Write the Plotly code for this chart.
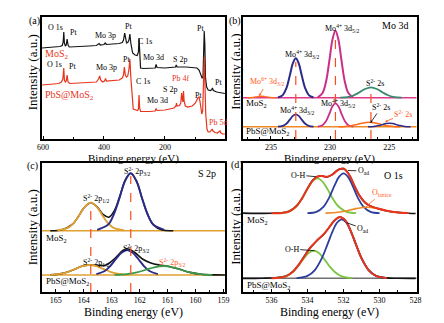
import plotly.graph_objects as go

FONT = "Liberation Serif"
W, H = 444, 323

# ---------------- (a) survey spectra ----------------
a_be_mos2 = [604, 580, 555, 545, 537, 534, 532, 530, 527, 524, 521, 518, 514, 500, 480, 450, 425, 416, 412,
             400, 396, 392, 370, 350, 340, 336, 332, 329, 326, 322, 318, 315, 312, 306, 298, 291, 287, 285,
             283, 280, 270, 245, 232, 229, 226, 200, 175, 165, 163, 160, 130, 110, 95, 88, 82, 78, 75, 73, 71,
             69, 67, 63, 58, 50, 46, 44, 41, 30, 15, 3]
a_int_mos2 = [91, 91.5, 92, 92.5, 93.5, 97, 107, 96, 93, 94, 100, 94, 92, 92, 92.5, 93, 93.5, 95.5, 94,
              94.5, 96, 94.5, 95, 95.5, 96.5, 99, 106, 98, 96, 96.5, 99, 105, 96, 86, 84, 83.5, 87, 101,
              86, 71, 70.5, 70.5, 71, 74.5, 71.5, 71, 71.5, 72, 74, 72, 72, 71.5, 71, 69, 64, 61, 62, 80, 108,
              95, 62, 52, 49, 48.5, 49.5, 51, 48.5, 47, 46, 45.5]
a_be_pbs = [604, 570, 548, 540, 535, 532, 530, 527, 524, 521, 518, 512, 480, 450, 425, 418, 414, 411, 405,
            398, 395, 392, 375, 350, 340, 336, 333, 330, 326, 322, 318, 315, 312, 308, 304, 295, 290, 287,
            285, 283, 280, 250, 232, 229, 226, 200, 180, 170, 164, 162, 160, 152, 148, 145, 143, 141, 139,
            137, 133, 125, 110, 100, 92, 88, 85, 82, 79, 76, 73, 71, 69, 66, 62, 58, 52, 48, 45, 42, 36, 28,
            22, 19, 16, 10, 3]
a_int_pbs = [54, 54.5, 55.5, 57, 60, 71, 59, 57, 58, 64, 57, 55.5, 56, 56.5, 57, 60, 63, 59, 57,
             58, 60.5, 58, 58.5, 59, 61, 64, 72, 64, 62, 63, 70, 80, 62, 40, 30, 29, 28.5, 30,
             44, 31, 27.5, 27.5, 28, 30.5, 28.5, 29, 30, 31, 33, 36, 33, 33.5, 36, 46, 40, 37, 48,
             38, 33, 32, 33, 36, 41, 42, 38, 27, 25, 28, 50, 82, 60, 25, 10, 7, 7, 9, 10, 8, 6.5, 6,
             7, 8, 6, 5, 5]

# ---------------- (b) Mo 3d ----------------
b_base_x = [237.5, 222.5]
b_base_mos2 = [41.3, 41.3]
b_base_pbs = [12.3, 12.3]
b_m_d32_x = [234.4, 234.0, 233.7, 233.4, 233.15, 232.9, 232.65, 232.4, 232.1, 231.8, 231.4]
b_m_d32_y = [41.5, 43.9, 50.6, 63.8, 75.6, 80.7, 75.6, 63.8, 50.6, 43.9, 41.5]
b_m_d52_x = [231.05, 230.65, 230.35, 230.05, 229.8, 229.55, 229.3, 229.05, 228.75, 228.45, 228.05]
b_m_d52_y = [41.7, 45.7, 57.0, 79.5, 99.6, 108.3, 99.6, 79.5, 57.0, 45.7, 41.7]
b_m_s2s_x = [229.15, 228.55, 228.05, 227.55, 227.05, 226.55, 226.05, 225.55, 225.05, 224.55, 223.95]
b_m_s2s_y = [41.4, 41.9, 43.5, 46.5, 50.0, 51.7, 50.0, 46.5, 43.5, 41.9, 41.4]
b_m_mo6_x = [237.0, 236.5, 236.1, 235.8, 235.5, 235.1, 234.6]
b_m_mo6_y = [41.3, 41.6, 42.4, 42.8, 42.4, 41.6, 41.3]
b_p_d32_y = [12.4, 13.1, 15.2, 19.4, 23.1, 24.7, 23.1, 19.4, 15.2, 13.1, 12.4]
b_p_d52_y = [12.4, 13.8, 17.8, 25.6, 32.7, 35.7, 32.7, 25.6, 17.8, 13.8, 12.4]
b_p_s2s_x = [229.3, 228.7, 228.2, 227.7, 227.2, 226.7, 226.2, 225.7, 225.2, 224.7, 224.1]
b_p_s2s_y = [12.3, 12.6, 13.2, 14.6, 16.1, 16.8, 16.1, 14.6, 13.2, 12.6, 12.3]
b_p_s2b_x = [226.8, 226.3, 225.9, 225.6, 225.3, 225.0, 224.7, 224.4, 224.1, 223.7, 223.2]
b_p_s2b_y = [12.3, 12.6, 13.4, 14.4, 15.4, 15.8, 15.4, 14.4, 13.4, 12.6, 12.3]
b_peak_pos = [232.9, 229.55, 226.55]
b_peak_top = [77, 105, 50]

# ---------------- (c) S 2p ----------------
c_base_x = [165.6, 158.8]
c_base_mos2 = [61.3, 61.3]
c_base_pbs = [17.0, 17.0]
c_m_p12_x = [164.95, 164.55, 164.35, 164.15, 163.95, 163.75, 163.55, 163.35, 163.15, 162.95, 162.55]
c_m_p12_y = [61.7, 64.4, 69.4, 77.3, 85.7, 89.3, 85.7, 77.3, 69.4, 64.4, 61.7]
c_m_p32_x = [163.52, 163.12, 162.92, 162.72, 162.52, 162.32, 162.12, 161.92, 161.72, 161.52, 161.12]
c_m_p32_y = [62.2, 67.6, 78.0, 94.1, 111.3, 118.8, 111.3, 94.1, 78.0, 67.6, 62.2]
c_m_env_x = [165.2, 164.8, 164.4, 164.2, 164.0, 163.75, 163.5, 163.3, 163.1, 162.9, 162.7, 162.5, 162.32,
             162.1, 161.9, 161.7, 161.5, 161.2, 160.8]
c_m_env_y = [61.3, 61.9, 67.8, 75.2, 83.9, 89.3, 84.4, 77.3, 74.8, 81.5, 96.8, 112.8, 118.8,
             110.0, 92.5, 76.5, 66.9, 62.0, 61.3]
c_p_p12_x = [165.2, 164.8, 164.55, 164.3, 164.05, 163.8, 163.55, 163.3, 163.05, 162.8, 162.4]
c_p_p12_y = [17.2, 18.4, 20.2, 23.1, 25.8, 27.0, 25.8, 23.1, 20.2, 18.4, 17.2]
c_p_p32_x = [163.55, 163.25, 163.05, 162.85, 162.65, 162.45, 162.25, 162.05, 161.85, 161.65, 161.35]
c_p_p32_y = [17.8, 21.0, 26.0, 33.0, 39.3, 42.0, 39.3, 33.0, 26.0, 21.0, 17.8]
c_p_pbs_x = [162.9, 162.45, 162.1, 161.8, 161.48, 161.15, 160.82, 160.5, 160.2, 159.85, 159.4]
c_p_pbs_y = [17.1, 17.9, 19.6, 22.0, 24.7, 26.0, 24.7, 22.0, 19.6, 17.9, 17.1]
c_p_env_x = [165.2, 164.8, 164.4, 164.1, 163.8, 163.5, 163.2, 162.9, 162.6, 162.45, 162.2, 161.9, 161.6,
             161.3, 161.0, 160.6, 160.2, 159.8, 159.3, 158.9]
c_p_env_y = [17.2, 18.4, 21.9, 25.4, 27.1, 26.5, 27.0, 33.2, 41.6, 43.2, 40.0, 33.0, 29.0,
             27.0, 25.8, 22.9, 19.6, 17.7, 17.1, 17.0]
c_peak_pos = [163.75, 162.32]
c_peak_top = [87, 116]

# ---------------- (d) O 1s ----------------
d_base_x = [537.8, 527.8]
d_base_pbs = [13.7, 13.7]
d_m_oh_x = [535.6, 535.0, 534.6, 534.3, 534.0, 533.7, 533.45, 533.2, 532.9, 532.6, 532.3, 531.9, 531.3]
d_m_oh_y = [78.8, 80.7, 86.0, 93.6, 103.2, 111.2, 113.7, 111.2, 103.2, 93.6, 86.0, 80.7, 78.8]
d_m_oad_x = [534.0, 533.5, 533.1, 532.8, 532.5, 532.25, 532.0, 531.75, 531.5, 531.2, 530.9, 530.5, 530.0]
d_m_oad_y = [78.8, 80.1, 85.3, 94.2, 106.3, 115.1, 118.7, 115.1, 106.3, 94.2, 85.3, 80.1, 78.8]
d_m_olat_x = [533.0, 532.3, 531.8, 531.3, 530.7, 530.1, 529.6, 529.1, 528.4]
d_m_olat_y = [78.9, 79.7, 81.3, 83.4, 84.7, 83.4, 81.3, 79.7, 78.9]
d_m_env_x = [536.0, 535.4, 535.0, 534.6, 534.3, 534.0, 533.7, 533.45, 533.2, 532.9, 532.6, 532.3, 532.0,
             531.7, 531.4, 531.1, 530.8, 530.5, 530.1, 529.6, 529.1, 528.4]
d_m_env_y = [78.7, 79.1, 80.7, 86.0, 93.6, 103.3, 111.7, 115.5, 115.9, 115.3, 117.5, 122.0, 123.5,
             117.6, 106.6, 96.1, 89.4, 85.9, 83.5, 81.3, 79.7, 78.9]
d_m_raw_x = [537.6, 536.8, 536.0, 535.4, 535.0, 534.6, 534.3, 534.0, 533.7, 533.45, 533.2, 532.9, 532.6,
             532.3, 532.0, 531.7, 531.4, 531.1, 530.8, 530.5, 530.1, 529.6, 529.1, 528.4, 528.0]
d_m_raw_y = [78.9, 78.6, 78.8, 79.2, 80.9, 86.1, 93.4, 103.6, 111.9, 115.3, 116.1, 115.0, 117.8,
             122.3, 123.2, 117.9, 106.3, 96.0, 89.2, 86.0, 83.4, 81.0, 79.9, 78.8, 78.5]
d_p_oh_x = [535.8, 535.2, 534.8, 534.5, 534.2, 533.9, 533.65, 533.4, 533.1, 532.8, 532.5, 532.1, 531.5]
d_p_oh_y = [13.9, 15.7, 20.3, 26.3, 33.6, 39.5, 41.3, 39.5, 33.6, 26.3, 20.3, 15.7, 13.9]
d_p_oad_x = [534.6, 534.0, 533.6, 533.2, 532.9, 532.6, 532.35, 532.1, 531.85, 531.6, 531.3, 531.0, 530.6,
             530.2, 529.6]
d_p_oad_y = [13.9, 16.1, 21.7, 33.8, 47.1, 60.9, 69.5, 72.7, 69.5, 60.9, 47.1, 33.8, 21.7, 16.1, 13.9]
d_p_env_x = [536.0, 535.5, 535.2, 534.8, 534.5, 534.2, 533.9, 533.65, 533.4, 533.1, 532.8, 532.5, 532.2,
             531.9, 531.6, 531.3, 531.0, 530.6, 530.2, 529.6]
d_p_env_y = [13.7, 14.4, 15.7, 20.3, 26.7, 34.8, 42.8, 48.3, 52.6, 57.8, 64.5, 71.5, 75.0,
             71.6, 61.2, 47.1, 33.8, 21.7, 16.1, 13.9]
d_p_raw_x = [537.6, 536.5, 535.8, 535.2, 534.8, 534.5, 534.2, 533.9, 533.65, 533.4, 533.1, 532.8, 532.5,
             532.2, 531.9, 531.6, 531.3, 531.0, 530.6, 530.2, 529.6, 529.0, 528.0]
d_p_raw_y = [13.6, 13.8, 14.3, 15.9, 20.6, 27.0, 35.1, 43.2, 48.0, 52.9, 57.5, 64.6, 71.3,
             75.0, 71.7, 61.0, 47.3, 33.6, 21.9, 16.2, 14.1, 13.8, 13.6]

# ---------------- colours ----------------
BLACK = "#141414"
RED = "#e8341c"
NAVY = "#2b2b88"
MAGENTA = "#c8308a"
PINK = "#e0388c"
TEAL = "#3a8a70"
ORANGE = "#ee8a26"
DASH = "#ff4a1a"
GOLD = "#e0a030"
GREEN_C = "#3a9a4a"
GREEN_D = "#7cc444"
BLUE_D = "#2c3e9c"
LABRED = "#ff5a1a"

fig = go.Figure()


def line(x, y, ax, color, width=1.6, shape="spline", dash=None):
    fig.add_trace(go.Scatter(x=x, y=y, xaxis="x" + ax, yaxis="y" + ax, mode="lines",
                             line=dict(color=color, width=width, shape=shape, dash=dash),
                             hoverinfo="skip", showlegend=False))


# (a)
line(a_be_mos2, a_int_mos2, "", BLACK, 1.2, "linear")
line(a_be_pbs, a_int_pbs, "", RED, 1.2, "linear")

# (b)
line(b_base_x, b_base_mos2, "2", PINK, 1.6, "linear")
line(b_m_mo6_x, b_m_mo6_y, "2", "#ff6a1a", 1.4)
line(b_m_d32_x, b_m_d32_y, "2", NAVY, 2.0)
line(b_m_d52_x, b_m_d52_y, "2", MAGENTA, 2.0)
line(b_m_s2s_x, b_m_s2s_y, "2", TEAL, 1.8)
line(b_base_x, b_base_pbs, "2", ORANGE, 1.6, "linear")
line(b_m_d32_x, b_p_d32_y, "2", NAVY, 1.8)
line(b_m_d52_x, b_p_d52_y, "2", MAGENTA, 1.8)
line(b_p_s2s_x, b_p_s2s_y, "2", "#ff6a1a", 1.5)
line(b_p_s2b_x, b_p_s2b_y, "2", NAVY, 1.5)
for xp, yt in zip(b_peak_pos, b_peak_top):
    line([xp, xp], [0, yt], "2", DASH, 1.2, "linear", "dash")

# (c)
line(c_base_x, c_base_mos2, "3", GOLD, 1.5, "linear")
line(c_m_env_x, c_m_env_y, "3", BLACK, 1.6)
line(c_m_p12_x, c_m_p12_y, "3", GOLD, 1.8)
line(c_m_p32_x, c_m_p32_y, "3", NAVY, 1.9)
line(c_base_x, c_base_pbs, "3", GOLD, 1.5, "linear")
line(c_p_env_x, c_p_env_y, "3", BLACK, 1.6)
line(c_p_p12_x, c_p_p12_y, "3", GOLD, 1.8)
line(c_p_p32_x, c_p_p32_y, "3", NAVY, 1.9)
line(c_p_pbs_x, c_p_pbs_y, "3", GREEN_C, 1.8)
for xp, yt in zip(c_peak_pos, c_peak_top):
    line([xp, xp], [0, yt], "3", DASH, 1.2, "linear", "dash")

# (d)
line(d_m_raw_x, d_m_raw_y, "4", BLACK, 1.6)
line(d_m_oh_x, d_m_oh_y, "4", GREEN_D, 1.8)
line(d_m_oad_x, d_m_oad_y, "4", BLUE_D, 1.8)
line(d_m_olat_x, d_m_olat_y, "4", ORANGE, 1.6)
line(d_m_env_x, d_m_env_y, "4", RED, 2.0)
line(d_base_x, d_base_pbs, "4", "#707070", 1.4, "linear")
line(d_p_raw_x, d_p_raw_y, "4", BLACK, 1.6)
line(d_p_oh_x, d_p_oh_y, "4", GREEN_D, 1.8)
line(d_p_oad_x, d_p_oad_y, "4", BLUE_D, 1.8)
line(d_p_env_x, d_p_env_y, "4", RED, 2.0)

# ---------------- axes ----------------
dom_left = [37.7 / W, 225 / W]
dom_right = [243 / W, 421 / W]
dom_top = [1 - 139 / H, 1 - 17 / H]
dom_bot = [1 - 292 / H, 1 - 163 / H]


def xax(dom, anchor, rng, dtick, minor):
    return dict(domain=dom, anchor=anchor, range=rng, dtick=dtick, tick0=0,
                showline=True, linecolor="black", linewidth=1.5, mirror=True,
                ticks="inside", ticklen=3, tickwidth=1, tickcolor="black",
                minor=dict(dtick=minor, ticks="inside", ticklen=2, tickcolor="black"),
                tickfont=dict(family=FONT, size=8, color="black"),
                showgrid=False, zeroline=False, fixedrange=True)


def yax(dom, anchor, rng):
    return dict(domain=dom, anchor=anchor, range=rng, showline=True, linecolor="black",
                linewidth=1.5, mirror=True, ticks="", showticklabels=False,
                showgrid=False, zeroline=False, fixedrange=True)


ann = []


def txt(text, x, y, ax, color="black", size=8, xanchor="center"):
    ann.append(dict(text=text, x=x, y=y, xref="x" + ax, yref="y" + ax, showarrow=False,
                    xanchor=xanchor, yanchor="middle",
                    font=dict(family=FONT, size=size, color=color)))


def arw(text, x, y, tx, ty, ax, color="black", size=8, head=0):
    ann.append(dict(text=text, x=x, y=y, ax=tx, ay=ty, xref="x" + ax, yref="y" + ax,
                    axref="x" + ax, ayref="y" + ax, showarrow=True, arrowhead=head,
                    arrowsize=0.6, arrowwidth=0.8, arrowcolor=color, standoff=0,
                    font=dict(family=FONT, size=size, color=color)))


def ptxt(text, xp, yp, size=10, angle=0, xanchor="center"):
    ann.append(dict(text=text, x=xp / W, y=1 - yp / H, xref="paper", yref="paper",
                    showarrow=False, textangle=angle, xanchor=xanchor, yanchor="middle",
                    font=dict(family=FONT, size=size, color="black")))


# (a) labels
txt("O 1s", 558, 111, "")
txt("Pt", 500, 106, "")
txt("Mo 3p", 394, 103, "")
txt("Pt", 321, 112, "")
txt("C 1s", 266, 97, "")
txt("Mo 3d", 237, 81, "")
txt("S 2p", 150, 79, "")
txt("Pt", 83, 110, "")
txt("Pt", 25, 56, "")
txt("MoS<sub>2</sub>", 601, 84, "", RED, 10, "left")
txt("O 1s", 561, 74, "")
txt("Pt", 503, 72, "")
txt("Mo 3p", 391, 71, "")
txt("Pt", 327, 79, "")
txt("C 1s", 272, 57, "")
txt("Mo 3d", 224, 38, "")
txt("S 2p", 182, 49, "")
txt("Pb 4f", 148, 60, "", RED)
txt("Pt", 89, 43, "")
txt("Pb 5d", 26, 16, "", RED)
txt("PbS@MoS<sub>2</sub>", 601, 43, "", RED, 10, "left")

# (b) labels
txt("Mo<sup>4+</sup> 3d<sub>3/2</sub>", 232.4, 84, "2")
txt("Mo<sup>4+</sup> 3d<sub>5/2</sub>", 229.0, 110, "2")
txt("S<sup>2-</sup> 2s", 226.2, 56, "2")
txt("Mo 3d", 224.5, 113, "2", size=10)
txt("MoS<sub>2</sub>", 237.25, 35, "2", size=9, xanchor="left")
txt("PbS@MoS<sub>2</sub>", 237.25, 7, "2", size=9, xanchor="left")
arw("Mo<sup>6+</sup> 3d<sub>3/2</sub>", 236.0, 43, 235.3, 57, "2", LABRED, head=2)
txt("Mo<sup>4+</sup> 3d<sub>3/2</sub>", 232.8, 28, "2")
txt("Mo<sup>4+</sup> 3d<sub>5/2</sub>", 229.3, 35, "2")
arw("S<sup>2-</sup> 2s", 226.6, 16, 225.66, 32, "2", "black", head=2)
arw("S<sup>2-</sup> 2s", 225.35, 17.3, 223.8, 25, "2", LABRED, head=2)

# (c) labels
txt("S<sup>2-</sup> 2p<sub>3/2</sub>", 162.09, 120.5, "3")
txt("S<sup>2-</sup> 2p<sub>1/2</sub>", 163.57, 94, "3")
txt("S 2p", 159.6, 119, "3", size=10)
txt("MoS<sub>2</sub>", 165.41, 53.5, "3", size=9, xanchor="left")
txt("S<sup>2-</sup> 2p<sub>3/2</sub>", 162.12, 44, "3")
txt("S<sup>2-</sup> 2p<sub>1/2</sub>", 163.55, 30, "3")
txt("S<sup>2-</sup> 2p<sub>3/2</sub>", 160.86, 30, "3", LABRED)
txt("PbS@MoS<sub>2</sub>", 165.41, 11, "3", size=9, xanchor="left")

# (d) labels
arw("O-H", 533.53, 115.3, 534.53, 117, "4")
arw("O<sub>ad</sub>", 531.75, 121.5, 530.9, 121, "4")
txt("O 1s", 529.2, 117, "4", size=10)
arw("O<sub>lattice</sub>", 530.84, 83.7, 529.86, 99.5, "4", LABRED)
txt("MoS<sub>2</sub>", 537.45, 72, "4", size=9, xanchor="left")
arw("O-H", 533.6, 41.3, 534.87, 43, "4")
arw("O<sub>ad</sub>", 531.83, 69.3, 530.93, 63.5, "4")
txt("PbS@MoS<sub>2</sub>", 537.45, 6.5, "4", size=9, xanchor="left")

# panel letters & axis titles
ptxt("(a)", 30, 21, 10)
ptxt("(b)", 235, 21, 10)
ptxt("(c)", 28, 166, 10)
ptxt("(d)", 237, 165, 10)
for xc in (28, 235):
    ptxt("Intensity (a.u.)", xc, 72, 13, -90)
    ptxt("Intensity (a.u.)", xc, 227, 13, -90)
for xc in (131, 332):
    ptxt("Binding energy (eV)", xc, 158, 11)
    ptxt("Binding energy (eV)", xc, 312, 12)

fig.update_layout(
    width=W, height=H, margin=dict(l=0, r=0, t=0, b=0),
    paper_bgcolor="white", plot_bgcolor="white",
    xaxis=xax(dom_left, "y", [604, 3], 200, 100),
    yaxis=yax(dom_top, "x", [0, 122]),
    xaxis2=xax(dom_right, "y2", [237.4, 222.7], 5, 1),
    yaxis2=yax(dom_top, "x2", [0, 122]),
    xaxis3=xax(dom_left, "y3", [165.5, 158.95], 1, 0.5),
    yaxis3=yax(dom_bot, "x3", [0, 129]),
    xaxis4=xax(dom_right, "y4", [537.6, 527.95], 2, 1),
    yaxis4=yax(dom_bot, "x4", [0, 129]),
    annotations=ann,
    font=dict(family=FONT),
)

fig.write_html("out.html")
